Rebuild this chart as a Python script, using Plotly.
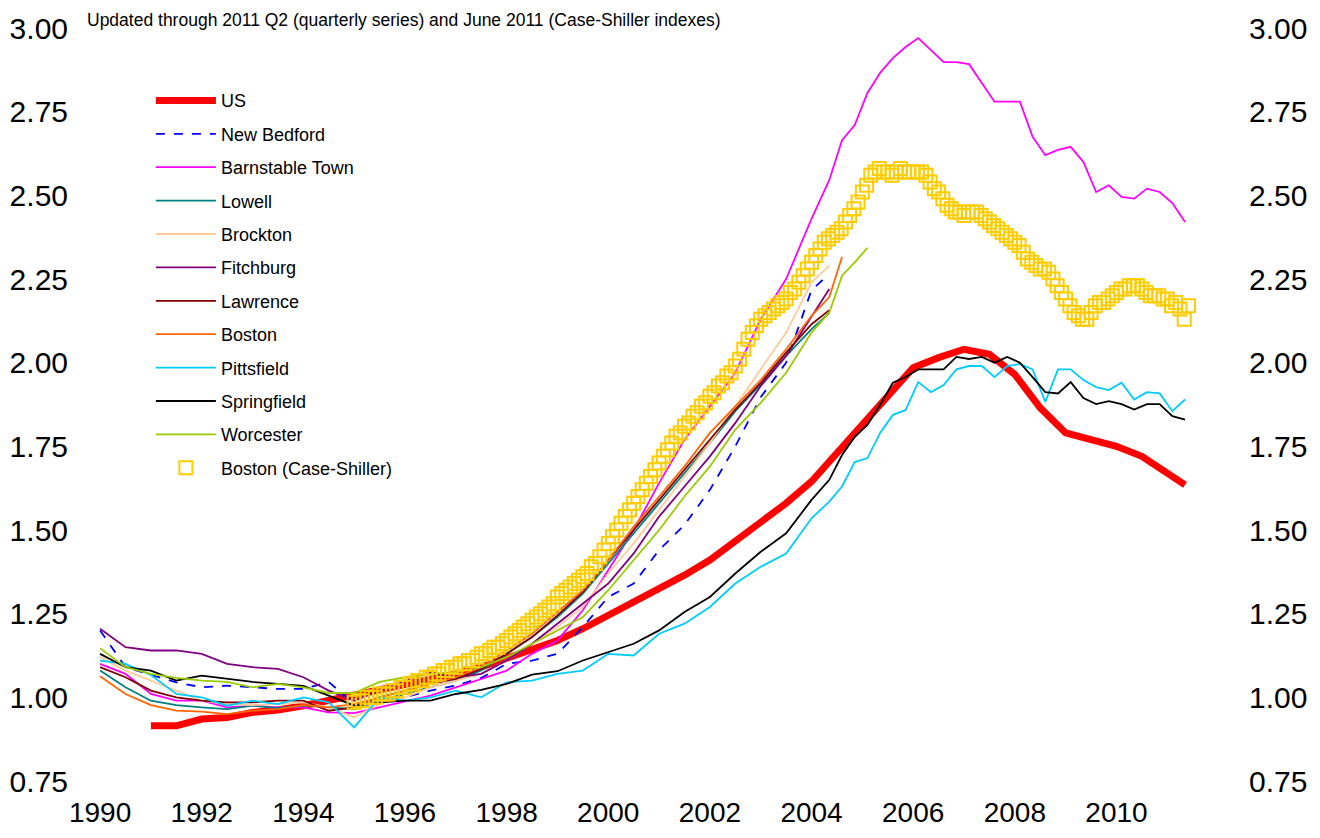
import plotly.graph_objects as go

# semi-annual grid 1990.0 .. 2004.0, quarterly grid 2004.35 .. 2011.35
semi = [1990.0 + 0.5 * k for k in range(29)]
late = [2004.35 + 0.25 * k for k in range(29)]

us_x = [1991.0 + 0.5 * k for k in range(41)] + [2011.35]
us = [0.915, 0.915, 0.935, 0.94, 0.955, 0.962, 0.975, 0.99, 1.005, 1.02,
      1.035, 1.05, 1.07, 1.09, 1.115, 1.14, 1.17, 1.205, 1.245, 1.28,
      1.32, 1.365, 1.41, 1.465, 1.525, 1.58, 1.645, 1.73, 1.815, 1.905,
      1.985, 2.015, 2.04, 2.025, 1.965, 1.865, 1.79, 1.77, 1.75, 1.72,
      1.67, 1.635]

new_bedford = [1.20, 1.09, 1.067, 1.045, 1.03, 1.035, 1.03, 1.025, 1.025, 1.046,
               0.98, 0.99, 1.00, 1.02, 1.035, 1.058, 1.10, 1.11, 1.13, 1.21,
               1.30, 1.34, 1.44, 1.515, 1.62, 1.75, 1.897, 2.0, 2.217, 2.265]

barnstable_early = [1.10, 1.07, 1.01, 0.99, 0.99, 0.97, 0.975, 0.97, 0.97, 0.955,
                    0.953, 0.97, 0.986, 1.005, 1.03, 1.055, 1.08, 1.13, 1.17, 1.26,
                    1.38, 1.50, 1.64, 1.77, 1.87, 1.97, 2.13, 2.25, 2.43]
barnstable_late = [2.546, 2.665, 2.71, 2.806, 2.866, 2.91, 2.943, 2.97, 2.934, 2.898,
                   2.898, 2.892, 2.836, 2.78, 2.78, 2.78, 2.675, 2.62, 2.636, 2.645,
                   2.60, 2.51, 2.53, 2.495, 2.49, 2.52, 2.51, 2.477, 2.42]

lowell = [1.08, 1.03, 0.99, 0.977, 0.97, 0.965, 0.975, 0.968, 0.975, 0.97,
          0.965, 0.99, 1.01, 1.03, 1.05, 1.08, 1.13, 1.18, 1.24, 1.31,
          1.40, 1.49, 1.58, 1.67, 1.76, 1.855, 1.935, 2.02, 2.10, 2.148]

brockton = [1.12, 1.08, 1.05, 1.02, 0.99, 0.98, 0.977, 0.98, 0.985, 0.97,
            0.94, 0.98, 1.0, 1.03, 1.05, 1.07, 1.11, 1.16, 1.21, 1.27,
            1.37, 1.46, 1.56, 1.66, 1.76, 1.87, 1.98, 2.09, 2.24, 2.29]

fitchburg = [1.205, 1.15, 1.14, 1.14, 1.13, 1.10, 1.09, 1.085, 1.06, 1.02,
             0.99, 1.02, 1.05, 1.075, 1.06, 1.07, 1.11, 1.16, 1.22, 1.28,
             1.34, 1.43, 1.54, 1.63, 1.72, 1.82, 1.93, 2.02, 2.14, 2.22]

lawrence = [1.09, 1.06, 1.02, 1.0, 0.99, 0.985, 0.985, 0.99, 0.99, 0.96,
            0.97, 1.0, 1.02, 1.04, 1.055, 1.085, 1.13, 1.18, 1.245, 1.315,
            1.41, 1.50, 1.59, 1.68, 1.77, 1.86, 1.94, 2.03, 2.115, 2.157]

boston = [1.063, 1.01, 0.977, 0.96, 0.957, 0.95, 0.96, 0.965, 0.977, 0.97,
          0.98, 1.0, 1.02, 1.04, 1.06, 1.09, 1.14, 1.19, 1.255, 1.32,
          1.41, 1.51, 1.60, 1.69, 1.79, 1.868, 1.948, 2.04, 2.14, 2.196, 2.316]

pittsfield_early = [1.11, 1.10, 1.067, 1.01, 1.0, 0.975, 0.99, 0.98, 1.0, 0.985,
                    0.91, 1.0, 0.99, 1.0, 1.02, 1.0, 1.045, 1.05, 1.07, 1.08,
                    1.13, 1.125, 1.19, 1.22, 1.27, 1.34, 1.39, 1.43, 1.535]
pittsfield_late = [1.585, 1.63, 1.703, 1.715, 1.79, 1.844, 1.858, 1.942, 1.912, 1.933,
                   1.98, 1.99, 1.99, 1.957, 1.99, 1.996, 1.98, 1.883, 1.98, 1.98,
                   1.948, 1.927, 1.918, 1.94, 1.89, 1.912, 1.908, 1.855, 1.89]

springfield_early = [1.13, 1.09, 1.08, 1.05, 1.065, 1.055, 1.046, 1.04, 1.034, 1.005,
                     0.975, 0.985, 0.99, 0.99, 1.01, 1.022, 1.04, 1.068, 1.078, 1.11,
                     1.135, 1.16, 1.20, 1.255, 1.30, 1.37, 1.435, 1.49, 1.59]
springfield_late = [1.65, 1.724, 1.778, 1.814, 1.874, 1.94, 1.957, 1.98, 1.98, 1.98,
                    2.017, 2.011, 2.017, 2.0, 2.017, 2.0, 1.957, 1.912, 1.908, 1.942,
                    1.894, 1.876, 1.885, 1.876, 1.86, 1.876, 1.876, 1.84, 1.83]

worcester = [1.147, 1.09, 1.07, 1.058, 1.05, 1.046, 1.03, 1.04, 1.03, 1.013,
             1.013, 1.046, 1.06, 1.07, 1.075, 1.09, 1.12, 1.16, 1.20, 1.24,
             1.32, 1.41, 1.50, 1.60, 1.69, 1.80, 1.88, 1.97, 2.09, 2.15,
             2.26, 2.30, 2.343]

# Boston Case-Shiller, monthly Jan 1995 .. Jun 2011
case_shiller = [
    0.985, 0.99, 0.99, 1.00, 1.00, 1.00, 1.01, 1.01, 1.01, 1.02, 1.02, 1.03,
    1.03, 1.04, 1.04, 1.05, 1.05, 1.06, 1.06, 1.07, 1.07, 1.08, 1.08, 1.09,
    1.09, 1.10, 1.10, 1.11, 1.11, 1.12, 1.13, 1.13, 1.14, 1.15, 1.15, 1.16,
    1.17, 1.18, 1.19, 1.20, 1.21, 1.22, 1.23, 1.24, 1.25, 1.26, 1.27, 1.28,
    1.30, 1.31, 1.32, 1.33, 1.34, 1.35, 1.36, 1.37, 1.39, 1.40, 1.42, 1.44,
    1.46, 1.48, 1.50, 1.52, 1.54, 1.56, 1.58, 1.60, 1.62, 1.64, 1.66, 1.68,
    1.70, 1.72, 1.74, 1.76, 1.78, 1.79, 1.81, 1.82, 1.84, 1.85, 1.87, 1.88,
    1.90, 1.91, 1.93, 1.94, 1.96, 1.97, 1.99, 2.01, 2.04, 2.07, 2.09, 2.11,
    2.13, 2.14, 2.15, 2.16, 2.17, 2.18, 2.19, 2.21, 2.22, 2.24, 2.26, 2.28,
    2.30, 2.32, 2.34, 2.36, 2.37, 2.38, 2.39, 2.40, 2.42, 2.44, 2.46, 2.48,
    2.51, 2.53, 2.56, 2.57, 2.58, 2.57, 2.57, 2.56, 2.57, 2.58, 2.57, 2.57,
    2.57, 2.57, 2.57, 2.56, 2.54, 2.52, 2.51, 2.49, 2.47, 2.46, 2.45, 2.45,
    2.44, 2.45, 2.45, 2.45, 2.44, 2.43, 2.42, 2.41, 2.40, 2.39, 2.38, 2.37,
    2.36, 2.35, 2.33, 2.31, 2.30, 2.29, 2.28, 2.28, 2.27, 2.25, 2.23, 2.21,
    2.19, 2.17, 2.15, 2.14, 2.13, 2.13, 2.15, 2.17, 2.18, 2.18, 2.19, 2.20,
    2.21, 2.22, 2.22, 2.23, 2.23, 2.23, 2.22, 2.21, 2.20, 2.20, 2.20, 2.19,
    2.19, 2.17, 2.18, 2.16, 2.13, 2.17,
]
cs_x = [1995.0 + m / 12 for m in range(len(case_shiller))]

year_ticks = list(range(1990, 2011, 2))
y_ticks = [0.75, 1.00, 1.25, 1.50, 1.75, 2.00, 2.25, 2.50, 2.75, 3.00]

FONT = "Liberation Sans Narrow, Arial Narrow, Liberation Sans, Arial"

series = [
    ("US", us_x, us, "#FF0000", 7, "solid"),
    ("New Bedford", semi + [2004.35], new_bedford, "#0000FF", 1.8, "dash"),
    ("Barnstable Town", semi + late, barnstable_early + barnstable_late, "#FF00FF", 1.8, "solid"),
    ("Lowell", semi + [2004.35], lowell, "#008080", 1.8, "solid"),
    ("Brockton", semi + [2004.35], brockton, "#FFCC99", 1.8, "solid"),
    ("Fitchburg", semi + [2004.35], fitchburg, "#800080", 1.8, "solid"),
    ("Lawrence", semi + [2004.35], lawrence, "#800000", 1.8, "solid"),
    ("Boston", semi + [2004.35, 2004.6], boston, "#FF6600", 1.8, "solid"),
    ("Pittsfield", semi + late, pittsfield_early + pittsfield_late, "#00CCFF", 1.8, "solid"),
    ("Springfield", semi + late, springfield_early + springfield_late, "#000000", 1.8, "solid"),
    ("Worcester", semi + [2004.35, 2004.6, 2004.85, 2005.1], worcester, "#99CC00", 1.8, "solid"),
]

fig = go.Figure()
for i, (name, xs, ys, color, w, dash) in enumerate(series):
    fig.add_trace(go.Scatter(
        x=xs, y=ys, name=name, mode="lines", legendgroup=f"g{i}",
        line=dict(color=color, width=w, dash=dash),
    ))

fig.add_trace(go.Scatter(
    x=cs_x, y=case_shiller, name="Boston (Case-Shiller)", mode="markers",
    legendgroup="cs",
    marker=dict(symbol="square-open", size=13, color="#FFCC00",
                line=dict(width=2, color="#FFCC00")),
))

# invisible copy on the right-hand axis so that its tick labels get drawn
fig.add_trace(go.Scatter(
    x=us_x, y=us, yaxis="y2", mode="lines", showlegend=False, hoverinfo="skip",
    line=dict(color="rgba(0,0,0,0)", width=0),
))

# page body adds an 8px margin, so the figure is sized to fit inside it
axis_font = dict(size=30, family=FONT)
fig.update_layout(
    width=1304, height=822,
    margin=dict(l=87, r=99, t=20, b=49),
    paper_bgcolor="white", plot_bgcolor="white",
    font=dict(family=FONT, color="black"),
    showlegend=True,
    legend=dict(x=0.05, y=0.928, xanchor="left", yanchor="top",
                font=dict(size=18, family=FONT), itemwidth=60,
                tracegroupgap=7, bgcolor="rgba(0,0,0,0)"),
    xaxis=dict(range=[1989.9, 2011.9], tickvals=year_ticks,
               ticktext=[str(y) for y in year_ticks], automargin=False,
               showgrid=False, zeroline=False, showline=False, ticks="",
               tickfont=dict(size=28, family=FONT), ticklabelstandoff=12),
    yaxis=dict(range=[0.75, 3.0], tickvals=y_ticks, tickformat=".2f", automargin=False,
               showgrid=False, zeroline=False, showline=False, ticks="",
               tickfont=axis_font, ticklabelstandoff=26),
    yaxis2=dict(range=[0.75, 3.0], tickvals=y_ticks, tickformat=".2f", automargin=False,
                overlaying="y", side="right", matches="y",
                showgrid=False, zeroline=False, showline=False, ticks="",
                tickfont=axis_font, ticklabelstandoff=35),
    annotations=[dict(
        text="Updated through 2011 Q2 (quarterly series) and June 2011 (Case-Shiller indexes)",
        xref="paper", yref="paper", x=-0.009, y=1.0, xanchor="left", yanchor="middle",
        yshift=8, showarrow=False, font=dict(size=17.5, family=FONT),
    )],
)

fig.write_html("out.html")
